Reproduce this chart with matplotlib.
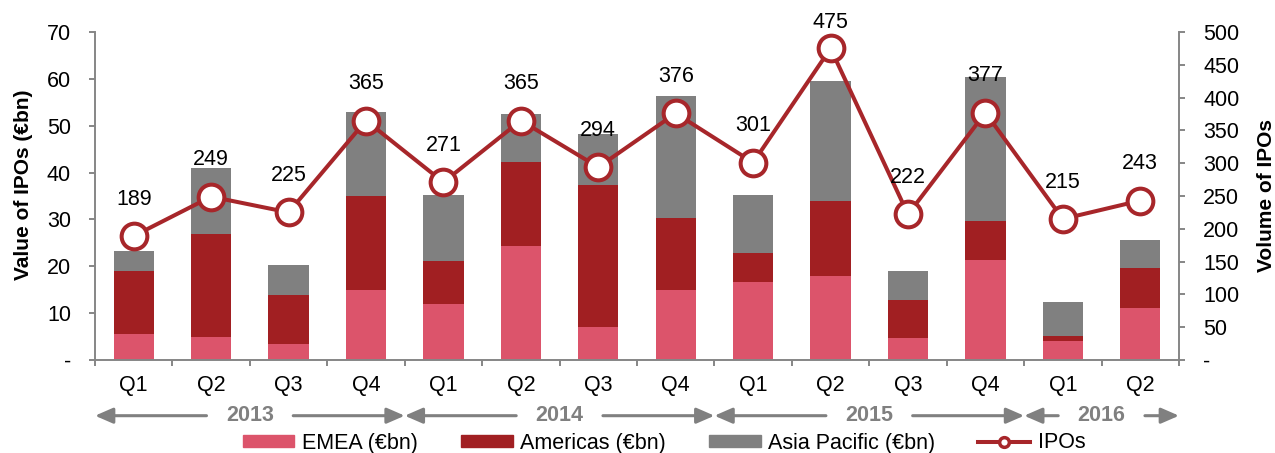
import matplotlib
matplotlib.use('Agg')
import matplotlib.pyplot as plt
import matplotlib.transforms as mtransforms
from matplotlib.lines import Line2D
from matplotlib.patches import Patch
import numpy as np

plt.rcParams['font.family'] = ['Liberation Sans', 'DejaVu Sans']

quarters = ['Q1', 'Q2', 'Q3', 'Q4', 'Q1', 'Q2', 'Q3', 'Q4', 'Q1', 'Q2', 'Q3', 'Q4', 'Q1', 'Q2']
years = ['2013'] * 4 + ['2014'] * 4 + ['2015'] * 4 + ['2016'] * 2
emea = [5.5, 5.0, 3.5, 14.9, 12.0, 24.3, 7.0, 14.9, 16.6, 17.9, 4.7, 21.3, 4.1, 11.0]
americas = [13.6, 21.9, 10.4, 20.1, 9.2, 18.0, 30.3, 15.4, 6.3, 16.0, 8.0, 8.4, 1.1, 8.6]
asia = [4.1, 14.1, 6.3, 17.9, 14.0, 10.2, 10.9, 26.0, 12.3, 25.6, 6.4, 30.7, 7.1, 6.0]
ipos = [189, 249, 225, 365, 271, 365, 294, 376, 301, 475, 222, 377, 215, 243]

c_emea = '#DC546B'
c_amer = '#A11F22'
c_asia = '#808080'
c_line = '#A7262A'
c_axis = '#868686'
fs = 15.5

fig = plt.figure(figsize=(12.75, 4.53), dpi=100)
ax = fig.add_axes([95 / 1275, 1 - 360 / 453, 1084 / 1275, 328 / 453])
ax2 = ax.twinx()

x = np.arange(len(quarters))
emea = np.array(emea)
americas = np.array(americas)
asia = np.array(asia)
w = 0.52
ax.bar(x, emea, w, color=c_emea, zorder=2)
ax.bar(x, americas, w, bottom=emea, color=c_amer, zorder=2)
ax.bar(x, asia, w, bottom=emea + americas, color=c_asia, zorder=2)

ax2.plot(x, ipos, color=c_line, lw=2.9, marker='o', ms=18.5, mfc='white',
         mec=c_line, mew=2.9, zorder=3)
for xi, v in zip(x, ipos):
    # labels sit ~37px above the marker, but no closer than ~22px to the top edge
    yoff = min(26.6, ((500 - v) * 328 / 500 + 10) * 0.72)
    ax2.annotate(str(v), (xi, v), xytext=(0, yoff), textcoords='offset points',
                 ha='center', va='center', fontsize=fs)

ax.set_xlim(-0.5, len(quarters) - 0.5)
ax.set_ylim(0, 70)
ax2.set_ylim(0, 500)

ax.set_yticks(np.arange(0, 71, 10))
ax2.set_yticks(np.arange(0, 501, 50))
fmt = matplotlib.ticker.FuncFormatter(lambda v, p: '-' if v == 0 else f'{v:.0f}')
ax.yaxis.set_major_formatter(fmt)
ax2.yaxis.set_major_formatter(fmt)

ax.set_xticks(np.arange(-0.5, len(quarters), 1))
ax.set_xticklabels([])
ax.set_xticks(x, minor=True)
ax.set_xticklabels(quarters, minor=True)
ax.tick_params(axis='x', which='major', length=4.3, width=1.4, color=c_axis)
ax.tick_params(axis='x', which='minor', length=0, pad=11, labelsize=fs)
ax.tick_params(axis='y', length=4.3, width=1.4, color=c_axis, pad=13, labelsize=fs)
ax2.tick_params(axis='y', length=4.3, width=1.4, color=c_axis, pad=13, labelsize=fs)

for a in (ax, ax2):
    for s in a.spines.values():
        s.set_color(c_axis)
        s.set_linewidth(1.4)
    a.spines['top'].set_visible(False)
ax.spines['right'].set_visible(False)
ax2.spines['left'].set_visible(False)
ax2.spines['bottom'].set_visible(False)

ax.set_ylabel('Value of IPOs (€bn)', fontsize=15, fontweight='bold')
ax.yaxis.set_label_coords(-0.0572, 0.534)
ax2.set_ylabel('Volume of IPOs', fontsize=15, fontweight='bold')
ax2.yaxis.set_label_coords(1.072, 0.5)

# year arrows under the quarter labels
trans = mtransforms.blended_transform_factory(ax.transData, fig.transFigure)
ya = 1 - 415.7 / 453
groups = []
for i, yr in enumerate(years):
    if not groups or groups[-1][0] != yr:
        groups.append([yr, i, i])
    else:
        groups[-1][2] = i
for yr, i0, i1 in groups:
    lo, hi = i0 - 0.5, i1 + 0.5
    c = (lo + hi) / 2
    ax.text(c, ya, yr, transform=trans, ha='center', va='center', fontsize=fs,
            fontweight='bold', color=c_asia)
    props = dict(arrowstyle='-|>,head_length=1.08,head_width=0.47', color=c_asia,
                 lw=2.2, shrinkA=0, shrinkB=0, mutation_scale=10)
    ax.annotate('', xy=(lo, ya), xytext=(c - 0.56, ya), xycoords=trans,
                textcoords=trans, arrowprops=props, annotation_clip=False)
    ax.annotate('', xy=(hi, ya), xytext=(c + 0.56, ya), xycoords=trans,
                textcoords=trans, arrowprops=props, annotation_clip=False)

handles = [Patch(color=c_emea), Patch(color=c_amer), Patch(color=c_asia),
           Line2D([], [], color=c_line, lw=2.9, marker='o', ms=7, mfc='white', mec=c_line, mew=2.5)]
labels = ['EMEA (€bn)', 'Americas (€bn)', 'Asia Pacific (€bn)', 'IPOs']
fig.legend(handles, labels, loc='center', bbox_to_anchor=(664 / 1275, 1 - 443 / 453),
           ncol=4, frameon=False, fontsize=fs, handlelength=2.4, handleheight=0.5,
           handletextpad=0.35, columnspacing=2.0, borderpad=0)

fig.savefig('out.png', dpi=100)
